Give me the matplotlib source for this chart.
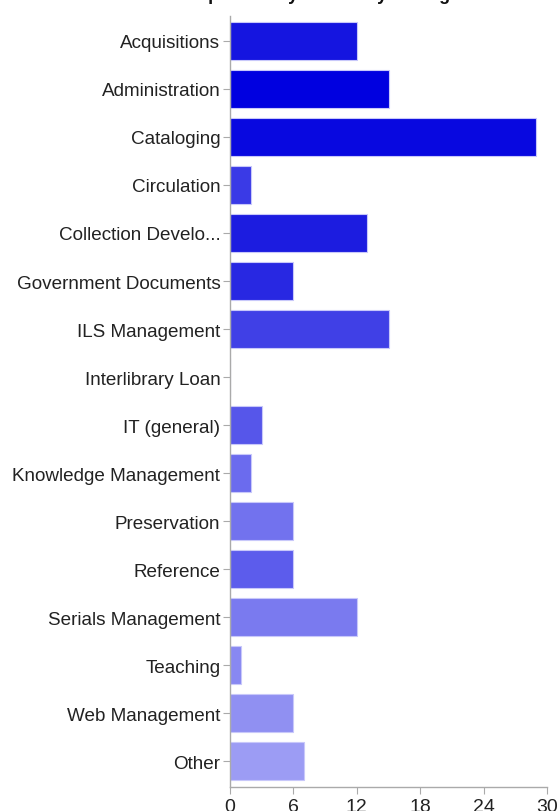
import matplotlib
matplotlib.use("Agg")
import matplotlib.pyplot as plt

plt.rcParams["font.family"] = ["Liberation Sans", "DejaVu Sans"]

categories = [
    "Acquisitions", "Administration", "Cataloging", "Circulation",
    "Collection Develo...", "Government Documents", "ILS Management",
    "Interlibrary Loan", "IT (general)", "Knowledge Management",
    "Preservation", "Reference", "Serials Management", "Teaching",
    "Web Management", "Other",
]
counts = [12, 15, 29, 2, 13, 6, 15, 0, 3, 2, 6, 6, 12, 1, 6, 7]
bar_colors = [
    "#1515e0", "#0000e0", "#0808e0", "#3a3ae6", "#1c1ce0", "#2828e2",
    "#4040e6", "#4a4ae8", "#5656ea", "#6b6bee", "#7272ee", "#5c5cec",
    "#7a7aef", "#8888f1", "#9090f2", "#9c9cf4",
]
x_ticks = [0, 6, 12, 18, 24, 30]
title = "Please select the responsibility areas of your organization"

fig = plt.figure(figsize=(5.59, 8.12), dpi=100)
ax = fig.add_axes([230 / 559, 24 / 812, 317 / 559, 771 / 812])

y = list(range(len(categories)))
ax.barh(y, counts, height=0.79, color=bar_colors, edgecolor="#c8c8fa", linewidth=0.8)

ax.set_xlim(0, 30)
ax.set_ylim(15.54, -0.52)
ax.set_yticks(y)
ax.set_yticklabels(categories)
ax.set_xticks(x_ticks)

for side in ("top", "right"):
    ax.spines[side].set_visible(False)
for side in ("left", "bottom"):
    ax.spines[side].set_color("#aaaaaa")
    ax.spines[side].set_linewidth(1.0)

ax.tick_params(axis="y", length=5, width=0.8, color="#aaaaaa", pad=2,
               labelsize=13.6, labelcolor="#222222")
ax.tick_params(axis="x", length=5, width=0.8, color="#aaaaaa", pad=3,
               labelsize=14, labelcolor="#222222")

fig.text(0.5, 1 - 0.3 / 812, title, ha="center", va="baseline",
         fontsize=13, fontweight="bold", color="#111111")

fig.savefig("out.png", dpi=100)
